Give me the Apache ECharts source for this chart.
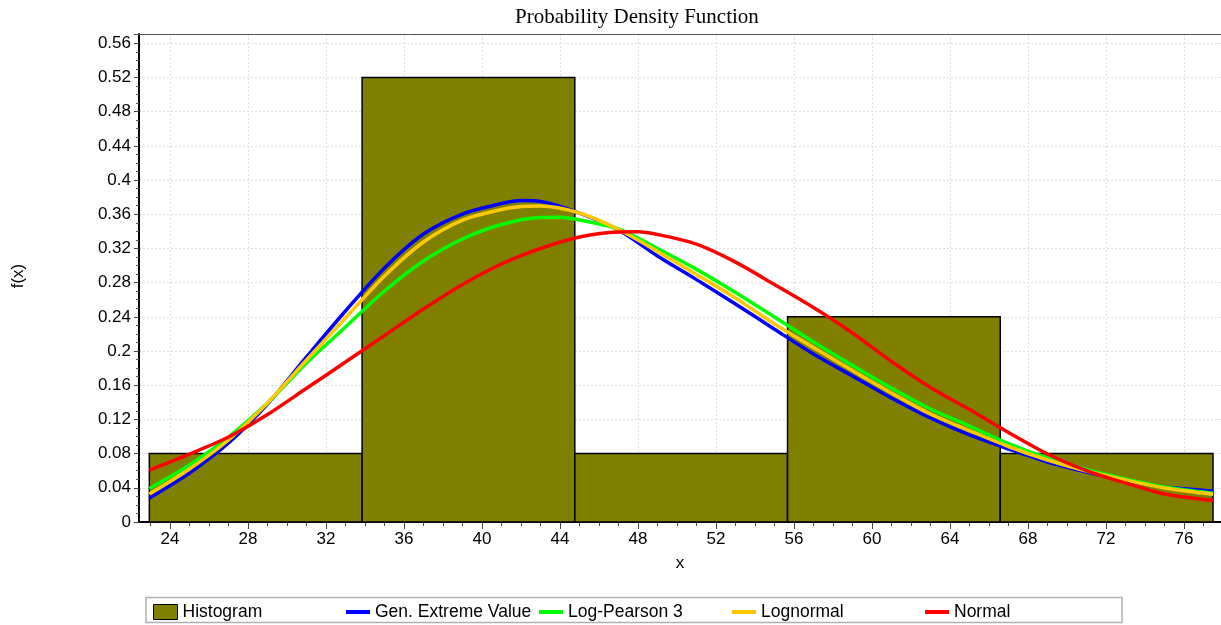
<!DOCTYPE html>
<html>
<head>
<meta charset="utf-8">
<title>Probability Density Function</title>
<script src="https://cdn.jsdelivr.net/npm/echarts@6/dist/echarts.min.js"></script>
<style>
  html, body { margin: 0; padding: 0; background: #fff; }
  #chart { width: 1221px; height: 625px; }
</style>
</head>
<body>
<div id="chart"></div>
<script>
// Histogram bins: [left edge, right edge, density]
const binEdges = [22.94, 33.85, 44.76, 55.67, 66.58, 77.49];
const binHeights = [0.08, 0.52, 0.08, 0.24, 0.08];

// Fitted density curves, [x, f(x)] pairs
const gevCurve = [
  [22.94, 0.0281], [25, 0.0573], [27, 0.0924], [29, 0.138], [31, 0.193], [33, 0.2468],
  [35, 0.2971], [37, 0.3368], [39, 0.3602], [41, 0.3725], [42, 0.376], [43, 0.3749],
  [45, 0.3614], [47, 0.3415], [49, 0.3111], [51, 0.2835], [53, 0.255], [55, 0.2255],
  [57, 0.1965], [59, 0.1708], [61, 0.145], [63, 0.1216], [65, 0.1018], [67, 0.0854],
  [69, 0.0702], [71, 0.0585], [73, 0.0485], [75, 0.0409], [77.49, 0.0363]
];
const lp3Curve = [
  [22.94, 0.0392], [25, 0.0667], [27, 0.0994], [29, 0.1392], [31, 0.186], [33, 0.2281],
  [35, 0.2702], [37, 0.3053], [39, 0.331], [41, 0.348], [43, 0.3561], [44, 0.3564],
  [45, 0.3532], [47, 0.3427], [49, 0.3199], [51, 0.2955], [53, 0.2685], [55, 0.2398],
  [57, 0.2105], [59, 0.1832], [61, 0.1567], [63, 0.1322], [65, 0.1123], [67, 0.0918],
  [69, 0.0749], [71, 0.0614], [73, 0.0503], [75, 0.0409], [77.49, 0.0336]
];
const lognormalCurve = [
  [22.94, 0.0327], [25, 0.062], [27, 0.0959], [29, 0.1392], [31, 0.1895], [33, 0.2386],
  [35, 0.2877], [37, 0.3275], [39, 0.3532], [41, 0.3655], [42, 0.369], [43, 0.3696],
  [45, 0.3614], [47, 0.3421], [49, 0.3164], [51, 0.2895], [53, 0.262], [55, 0.2316],
  [57, 0.2041], [59, 0.1772], [61, 0.1509], [63, 0.1263], [65, 0.107], [67, 0.0883],
  [69, 0.0725], [71, 0.0596], [73, 0.0491], [75, 0.0398], [77.49, 0.0324]
];
const normalCurve = [
  [22.94, 0.0608], [25, 0.0795], [27, 0.0994], [29, 0.1257], [31, 0.1564], [33, 0.1871],
  [35, 0.2181], [37, 0.2491], [39, 0.2778], [41, 0.3018], [43, 0.3199], [45, 0.3333],
  [47, 0.3392], [48, 0.3394], [49, 0.3363], [51, 0.325], [53, 0.304], [55, 0.2778],
  [57, 0.2509], [59, 0.2211], [61, 0.1877], [63, 0.1573], [65, 0.1316], [67, 0.1047],
  [69, 0.0795], [71, 0.0602], [73, 0.0456], [75, 0.0327], [77.49, 0.0251]
];

// Axis ticks
const xMajorTicks = [24, 28, 32, 36, 40, 44, 48, 52, 56, 60, 64, 68, 72, 76];
const xMinorTicks = [23, 24, 25, 26, 27, 28, 29, 30, 31, 32, 33, 34, 35, 36, 37, 38, 39, 40,
  41, 42, 43, 44, 45, 46, 47, 48, 49, 50, 51, 52, 53, 54, 55, 56, 57, 58, 59, 60,
  61, 62, 63, 64, 65, 66, 67, 68, 69, 70, 71, 72, 73, 74, 75, 76, 77];
const xMin = 22.41, xMax = 77.9;
const yMin = 0, yMax = 0.5708, yStep = 0.04;

const seriesNames = ['Histogram', 'Gen. Extreme Value', 'Log-Pearson 3', 'Lognormal', 'Normal'];
const curveColors = ['#0000ff', '#00ff00', '#ffc800', '#ff0000'];

const histData = binHeights.map((h, i) => [binEdges[i], binEdges[i + 1], h]);

const FONT = 'Liberation Sans, Arial, sans-serif';
const lineIcon = 'path://M0,0H24V4H0Z';

// legend row: one entry per slot, evenly spaced inside a framed box
const legendLeft = [153, 346, 539, 732, 925];
const legendIcons = [
  { icon: 'rect', itemStyle: { color: '#808000', borderColor: '#000', borderWidth: 1 } },
  { icon: lineIcon, itemStyle: { borderWidth: 0 } },
  { icon: lineIcon, itemStyle: { borderWidth: 0 } },
  { icon: lineIcon, itemStyle: { borderWidth: 0 } },
  { icon: lineIcon, itemStyle: { borderWidth: 0 } }
];
const legends = seriesNames.map((name, i) => ({
  left: legendLeft[i],
  top: 603,
  padding: 0,
  itemWidth: 24,
  itemHeight: 15,
  selectedMode: false,
  z: 5,
  textStyle: { fontFamily: FONT, fontSize: 17.5, color: '#000' },
  data: [Object.assign({ name: name }, legendIcons[i])]
}));

const chart = echarts.init(document.getElementById('chart'), null, { renderer: 'canvas' });

function curveSeries(name, data, color) {
  return {
    name: name,
    type: 'line',
    xAxisIndex: 0,
    data: data,
    smooth: 0.3,
    symbol: 'none',
    color: color,
    itemStyle: { color: color },
    lineStyle: { color: color, width: 3.5 },
    z: 3,
    animation: false
  };
}

chart.setOption({
  animation: false,
  title: {
    text: 'Probability Density Function',
    left: 510,
    top: 2,
    textStyle: { fontFamily: 'Liberation Serif, Times New Roman, serif', fontSize: 21, fontWeight: 'normal', color: '#000' }
  },
  grid: {
    left: 139, right: 0, top: 34, bottom: 103,
    show: false
  },
  graphic: [
    {
      type: 'text',
      x: 18, y: 276,
      rotation: Math.PI / 2,
      style: { text: 'f(x)', fontFamily: FONT, fontSize: 17, fill: '#000', align: 'center', verticalAlign: 'middle' }
    },
    {
      // frame line along the top of the plot
      type: 'line',
      z: 10,
      shape: { x1: 139, y1: 34.5, x2: 1221, y2: 34.5 },
      style: { stroke: '#555', lineWidth: 1 }
    },
    {
      // legend frame
      type: 'rect',
      z: 1,
      shape: { x: 146, y: 597.5, width: 976, height: 25 },
      style: { fill: '#fff', stroke: '#b0b0b0', lineWidth: 1.5 }
    }
  ],
  legend: legends,
  xAxis: [
    {
      // base axis: axis line and minor ticks
      type: 'value', min: xMin, max: xMax, position: 'bottom',
      axisLine: { show: true, onZero: false, lineStyle: { color: '#000', width: 2 } },
      axisTick: { show: true, customValues: xMinorTicks, length: 4, lineStyle: { color: '#444', width: 1 } },
      axisLabel: { show: false },
      splitLine: { show: false }
    },
    {
      // major ticks, labels and grid lines
      type: 'value', min: xMin, max: xMax, position: 'bottom',
      name: 'x', nameLocation: 'middle', nameGap: 33,
      nameTextStyle: { fontFamily: FONT, fontSize: 17, color: '#000' },
      axisLine: { show: false, onZero: false },
      axisTick: { show: true, customValues: xMajorTicks, length: 7, lineStyle: { color: '#444', width: 1 } },
      axisLabel: { show: true, customValues: xMajorTicks, margin: 9, fontFamily: FONT, fontSize: 17, color: '#000' },
      splitLine: { show: true, lineStyle: { color: '#dedede', width: 1, type: [2, 2] } }
    }
  ],
  yAxis: {
    type: 'value', min: yMin, max: yMax, interval: yStep,
    axisLine: { show: true, onZero: false, lineStyle: { color: '#000', width: 2 } },
    axisTick: { show: true, length: 5, lineStyle: { color: '#444', width: 1 } },
    minorTick: { show: true, splitNumber: 4, length: 3, lineStyle: { color: '#555', width: 1 } },
    axisLabel: {
      margin: 8, fontFamily: FONT, fontSize: 17, color: '#000', showMaxLabel: false,
      formatter: v => String(+v.toFixed(2))
    },
    splitLine: { show: true, lineStyle: { color: '#dedede', width: 1, type: [2, 2] } }
  },
  series: [
    {
      name: seriesNames[0],
      type: 'custom',
      xAxisIndex: 0,
      data: histData,
      encode: { x: [0, 1], y: 2 },
      itemStyle: { color: '#808000', borderColor: '#000', borderWidth: 1 },
      z: 2,
      renderItem: function (params, api) {
        const p0 = api.coord([api.value(0), 0]);
        const p1 = api.coord([api.value(1), api.value(2)]);
        return {
          type: 'rect',
          shape: { x: p0[0], y: p1[1], width: p1[0] - p0[0], height: p0[1] - p1[1] },
          style: { fill: '#808000', stroke: '#000', lineWidth: 1.5 }
        };
      }
    },
    curveSeries(seriesNames[1], gevCurve, curveColors[0]),
    curveSeries(seriesNames[2], lp3Curve, curveColors[1]),
    curveSeries(seriesNames[3], lognormalCurve, curveColors[2]),
    curveSeries(seriesNames[4], normalCurve, curveColors[3])
  ]
});
</script>
</body>
</html>
